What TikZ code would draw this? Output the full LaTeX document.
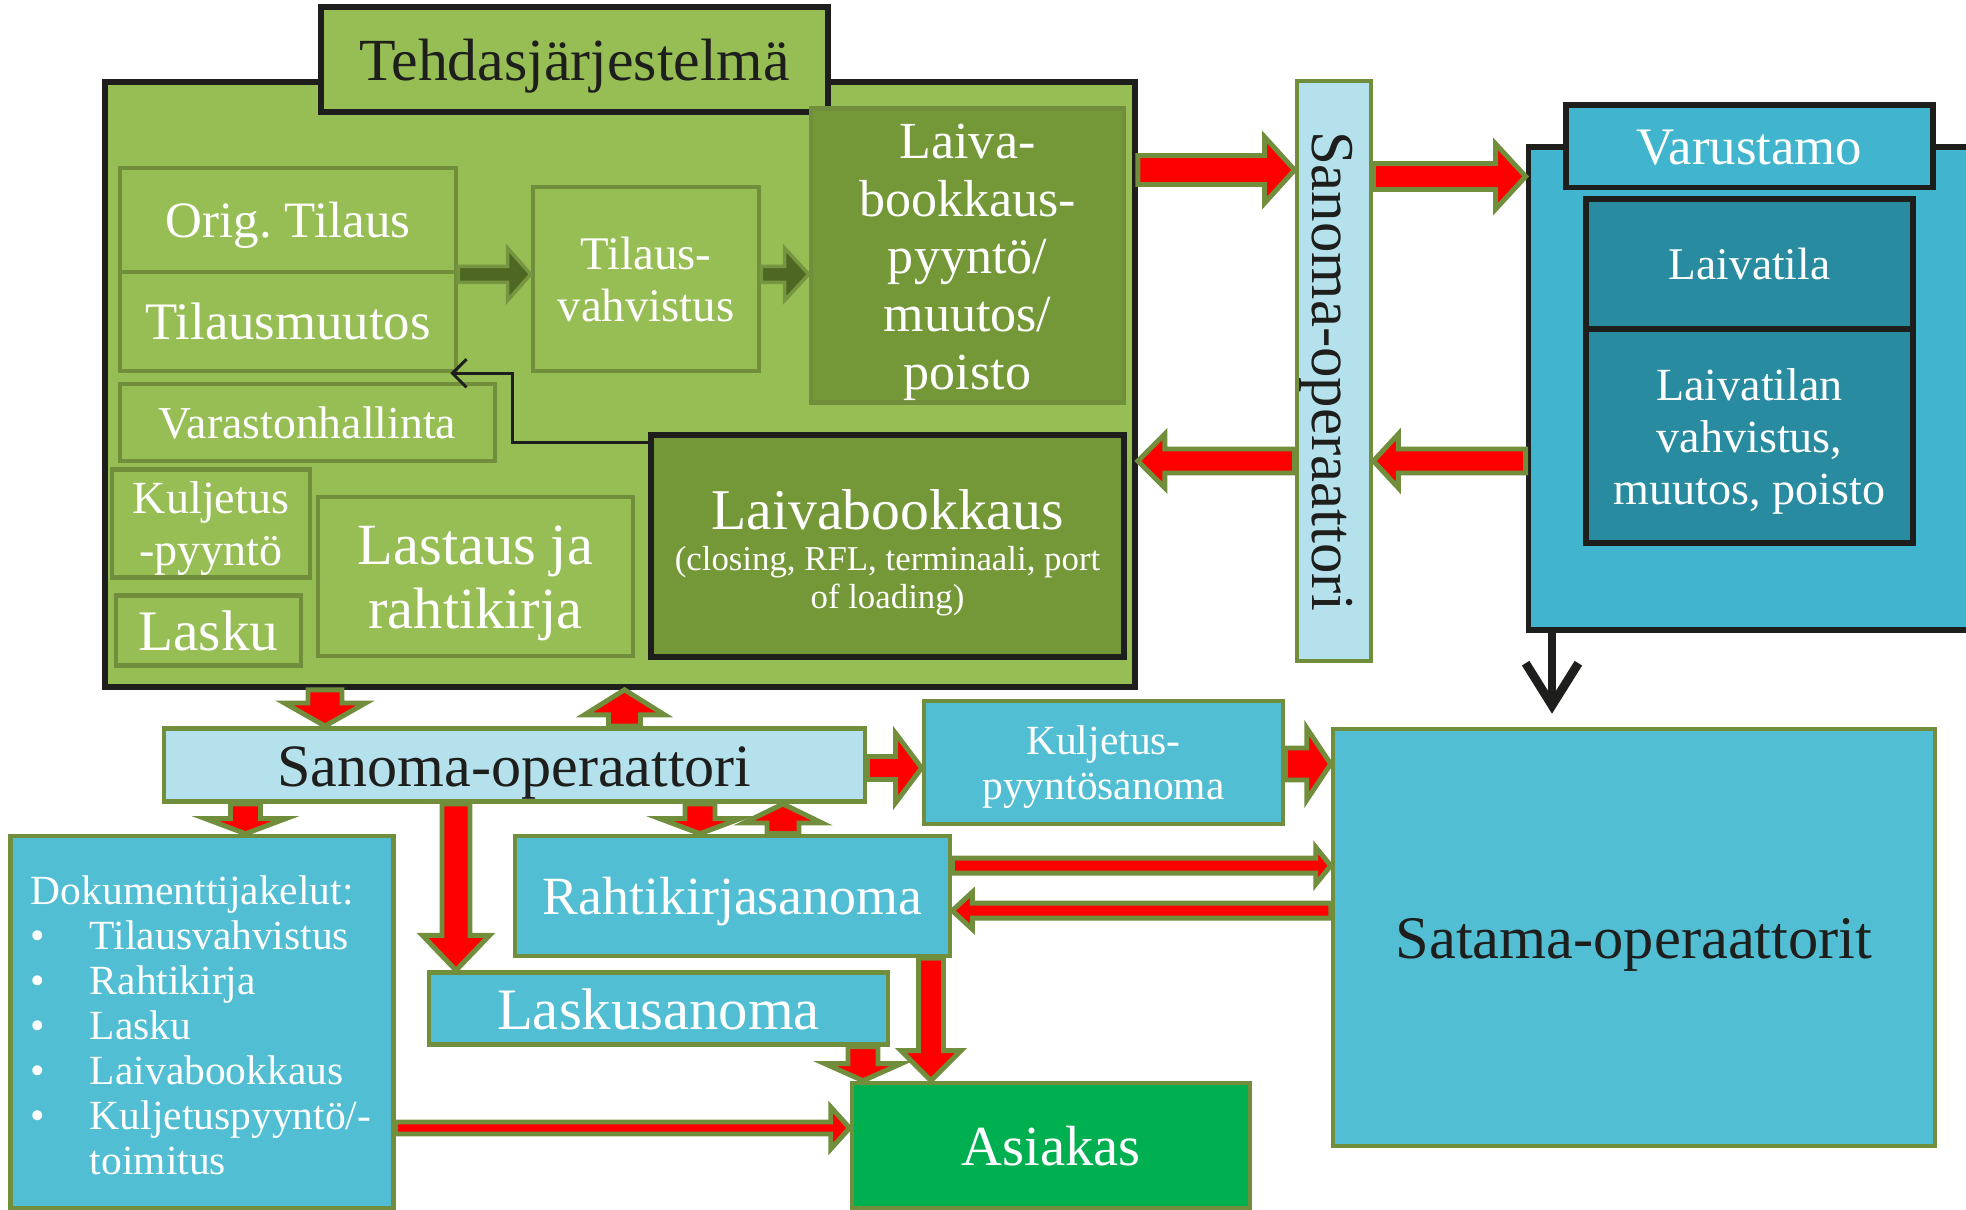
\documentclass[tikz,border=0pt]{standalone}
\usepackage{fontspec}
\setmainfont{Liberation Serif}
\usetikzlibrary{calc,arrows.meta}

\definecolor{lgreenc}{RGB}{151,190,84}
\definecolor{dgreenc}{RGB}{116,152,56}
\definecolor{olivec}{RGB}{112,142,60}
\definecolor{arrdark}{RGB}{78,104,36}
\definecolor{skyc}{RGB}{180,225,235}
\definecolor{bluec}{RGB}{82,190,211}
\definecolor{varc}{RGB}{66,181,206}
\definecolor{tealc}{RGB}{41,139,160}
\definecolor{asiac}{RGB}{0,176,80}
\definecolor{inkc}{RGB}{30,30,28}

\newcommand{\fsz}[2]{\fontsize{#1}{#2}\selectfont}
\newcommand{\ts}{\rule{0pt}{0.96em}}
% block arrow: start, end, angle, shaft, head, head length (px)
\newcommand{\blockarrow}[7][redarr]{%
  \path[#1] let \p1=(#2), \p2=(#3), \n1={veclen(\x2-\x1,\y2-\y1)},
    \n2={#5*0.1423pt}, \n3={#6*0.1423pt}, \n4={\n1-#7*0.2845pt} in
    [shift={(\p1)}, rotate=#4]
    (0pt,-\n2) -- (\n4,-\n2) -- (\n4,-\n3) -- (\n1,0pt) -- (\n4,\n3) -- (\n4,\n2) -- (0pt,\n2) -- cycle;}

\tikzset{
  box/.style={rectangle, inner sep=0pt, align=center, text=white, line width=1.3pt,
    execute at begin node={\ts},
    execute at end node={\rule[-0.26em]{0pt}{0.26em}}},
  sz/.style 2 args={minimum width=#1*0.01cm, minimum height=#2*0.01cm},
  lgbox/.style={box, fill=lgreenc, draw=olivec},
  dgbox/.style={box, fill=dgreenc, draw=olivec},
  blackbox/.style={box, draw=inkc, line width=1.6pt},
  skybox/.style={box, fill=skyc, draw=olivec, text=inkc},
  bluebox/.style={box, fill=bluec, draw=olivec},
  redarr/.style={fill=red, draw=olivec, line width=1.4pt},
  darkarr/.style={fill=arrdark, draw=olivec!85!lgreenc, line width=1pt},
}

\begin{document}
\begin{tikzpicture}[x=0.01cm, y=-0.01cm]
\useasboundingbox (0,0) rectangle (1966,1210);
% Tehdasjarjestelma
\node[blackbox, fill=lgreenc, sz={1030}{605}] (tehdas) at (620,384.5) {};
\node[blackbox, fill=lgreenc, text=inkc, sz={507}{105}, font=\fsz{17}{20}] (otsikko) at (574.5,59.5) {Tehdasjärjestelmä};
\node[lgbox, sz={336}{104}, font=\fsz{14.5}{17}] (orig) at (288,220) {Orig.\ Tilaus};
\node[lgbox, sz={336}{99}, font=\fsz{15}{17}] (muutos) at (288,321.5) {Tilausmuutos};
\node[lgbox, sz={226}{184}, font=\fsz{13.3}{14.7}] (vahv) at (646,279) {\ts Tilaus-\\vahvistus};
\node[dgbox, sz={313}{289}, font=\fsz{14.8}{16.4}] (pyynto) at (967.5,255.5) {\ts Laiva-\\bookkaus-\\pyyntö/\\muutos/\\poisto};
\node[lgbox, sz={375}{77}, font=\fsz{13}{15}] (varasto) at (307.5,422.5) {Varastonhallinta};
\node[lgbox, sz={198}{107}, font=\fsz{13.1}{14.8}] (kulj) at (211,523.5) {\ts Kuljetus\\-pyyntö};
\node[lgbox, sz={185}{61}, font=\fsz{16.3}{18}] (lasku) at (208.5,630.5) {Lasku};
\node[lgbox, sz={315}{159}, font=\fsz{16.6}{18.2}] (lastaus) at (475.5,576.5) {\ts Lastaus ja\\rahtikirja};
\node[blackbox, fill=dgreenc, sz={473}{222}, font=\fsz{9.9}{10.8}] (lbook) at (887.5,546) {{\fsz{16.4}{18}\ts Laivabookkaus}\\[1pt](closing, RFL, terminaali, port\\of loading)};

% Varustamo
\node[blackbox, fill=varc, sz={472}{483}] (varustamo) at (1764.5,388.5) {};
\node[blackbox, fill=varc, sz={367}{82.5}, font=\fsz{15}{17}] (vartitle) at (1749.3,146.3) {Varustamo};
\node[blackbox, fill=tealc, sz={327}{130}, font=\fsz{12.9}{15}] (laivatila) at (1749.5,264) {Laivatila};
\node[blackbox, fill=tealc, sz={327}{214}, font=\fsz{13.1}{14.8}] (laivatilan) at (1749.5,436) {\ts Laivatilan\\vahvistus,\\muutos, poisto};

% sanomat
\node[skybox, rotate=-90, sz={580}{70.5}, font=\fsz{17.3}{20}] (sanomaP) at (1334,371) {Sanoma-operaattori};
\node[skybox, sz={701}{72}, font=\fsz{17.1}{20}] (sanomaV) at (514.5,765) {Sanoma-operaattori};
\node[bluebox, sz={359}{123}, font=\fsz{11.8}{12.8}] (kuljsanoma) at (1103.5,762.5) {\ts Kuljetus-\\pyyntösanoma};
\node[bluebox, sz={382.5}{372}, text width=3.42cm, align=left, font=\fsz{11.8}{12.8}] (jakelu) at (202,1022)
  {\rule{0pt}{1.1em}Dokumenttijakelut:\\
   \makebox[16.8pt][l]{\textbullet}Tilausvahvistus\\
   \makebox[16.8pt][l]{\textbullet}Rahtikirja\\
   \makebox[16.8pt][l]{\textbullet}Lasku\\
   \makebox[16.8pt][l]{\textbullet}Laivabookkaus\\
   \makebox[16.8pt][l]{\textbullet}Kuljetuspyyntö/-\\
   \hspace*{16.8pt}toimitus};
\node[bluebox, sz={435}{120}, font=\fsz{15.3}{17}] (rahti) at (732.5,896) {Rahtikirjasanoma};
\node[bluebox, sz={459}{65}, font=\fsz{16.7}{18}] (laskusanoma) at (658.5,1008.5) {Laskusanoma};
\node[box, fill=asiac, draw=olivec, sz={398}{125}, font=\fsz{16.1}{18}] (asiakas) at (1051,1145.5) {Asiakas};
\node[bluebox, text=inkc, sz={602}{417}, font=\fsz{17.2}{20}] (satama) at (1634,937.5) {Satama-operaattorit};

% nuolet tehtaan sisalla
\blockarrow[darkarr]{orig.south east}{orig.south east -| vahv.west}{0}{16}{52}{23}
\blockarrow[darkarr]{vahv.east |- orig.south east}{pyynto.west |- orig.south east}{0}{16}{52}{24}
\draw[inkc, line width=0.85pt, -{Straight Barb[length=4pt,width=8pt]}] ($(lbook.north west)+(0,10)$) -| ($(muutos.south east)+(54,0)$) -- ($(muutos.south east)+(-8,0)$);

% punaiset nuolet
\blockarrow{tehdas.east |- 0,170}{sanomaP.south |- 0,170}{0}{29}{66}{30}
\blockarrow{sanomaP.north |- 0,176.5}{varustamo.west |- 0,176.5}{0}{26}{65}{30}
\blockarrow{varustamo.west |- 0,461}{sanomaP.north |- 0,461}{180}{24}{54}{25}
\blockarrow{sanomaP.south |- 0,461}{tehdas.east |- 0,461}{180}{24}{54}{27}
\blockarrow{325,0 |- tehdas.south}{325,0 |- sanomaV.north}{-90}{34}{81}{23}
\blockarrow{624.5,0 |- sanomaV.north}{624.5,0 |- tehdas.south}{90}{32}{80}{25}
\blockarrow{sanomaV.east |- 0,768}{kuljsanoma.west |- 0,768}{0}{23}{69}{26}
\blockarrow{kuljsanoma.east |- 0,764}{satama.west |- 0,764}{0}{32}{72}{24}
\blockarrow{245.5,0 |- sanomaV.south}{245.5,0 |- jakelu.north}{-90}{30}{80}{15}
\blockarrow{456,0 |- sanomaV.south}{456,0 |- laskusanoma.north}{-90}{28}{67}{35}
\blockarrow{700,0 |- sanomaV.south}{700,0 |- rahti.north}{-90}{30}{80}{15}
\blockarrow{783,0 |- rahti.north}{783,0 |- sanomaV.south}{90}{32}{78}{19}
\blockarrow{863,0 |- laskusanoma.south}{863,0 |- asiakas.north}{-90}{30}{76}{17}
\blockarrow{931,0 |- rahti.south}{931,0 |- asiakas.north}{-90}{25}{60}{30}
\blockarrow{jakelu.east |- 0,1128}{asiakas.west |- 0,1128}{0}{12}{42}{19}
\blockarrow{rahti.east |- 0,865.7}{satama.west |- 0,865.7}{0}{15}{37}{15}
\blockarrow{satama.west |- 0,910.7}{rahti.east |- 0,910.7}{180}{15}{37}{20}

% varustamo -> satama
\draw[inkc, line width=2.5pt, -{Straight Barb[length=12pt,width=15pt]}] (1552,0 |- varustamo.south) -- ($(1552,0 |- satama.north)+(0,-13)$);
\end{tikzpicture}
\end{document}
